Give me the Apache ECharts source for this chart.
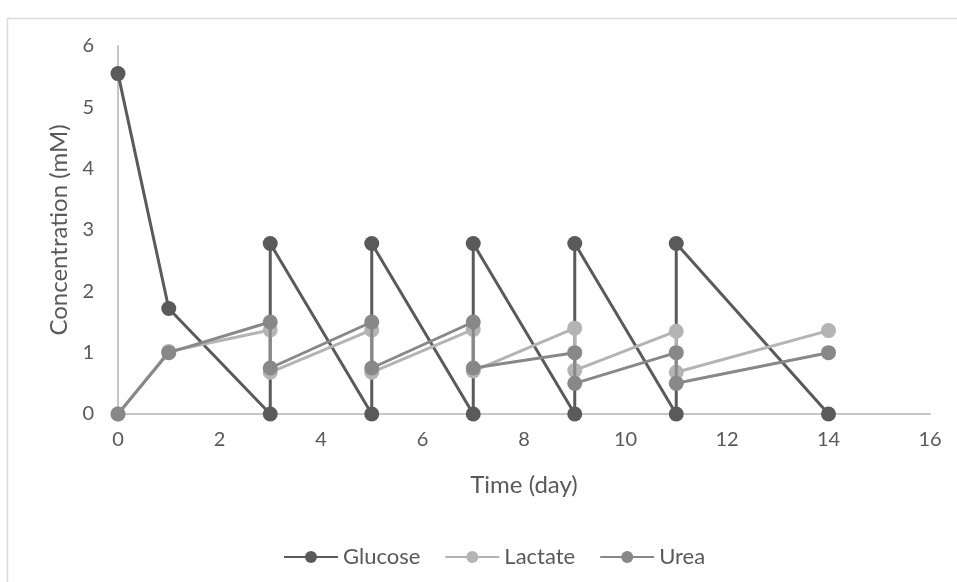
<!DOCTYPE html>
<html>
<head>
<meta charset="utf-8">
<script src="https://cdn.jsdelivr.net/npm/echarts@6/dist/echarts.min.js"></script>
<style>
  html, body { margin: 0; padding: 0; background: #fff; }
  #chart { width: 957px; height: 582px; }
</style>
</head>
<body>
<div id="chart"></div>
<script>
// Sampling days and measured concentrations (mM); media exchanged every two days
const glucoseDays = [0, 1, 3, 3, 5, 5, 7, 7, 9, 9, 11, 11, 14];
const glucoseValues = [5.55, 1.72, 0, 2.78, 0, 2.78, 0, 2.78, 0, 2.78, 0, 2.78, 0];

const lactateDays = [0, 1, 3, 3, 5, 5, 7, 7, 9, 9, 11, 11, 14];
const lactateValues = [0, 1.02, 1.37, 0.68, 1.37, 0.68, 1.38, 0.7, 1.4, 0.71, 1.35, 0.68, 1.36];

const ureaDays = [0, 1, 3, 3, 5, 5, 7, 7, 9, 9, 11, 11, 14];
const ureaValues = [0, 1.0, 1.5, 0.75, 1.5, 0.75, 1.5, 0.75, 1.0, 0.5, 1.0, 0.5, 1.0];

const seriesNames = ['Glucose', 'Lactate', 'Urea'];
const seriesColors = ['#5a5a5a', '#b4b4b4', '#888888'];

const pairs = (xs, ys) => xs.map((x, i) => [x, ys[i]]);
const seriesData = [
  pairs(glucoseDays, glucoseValues),
  pairs(lactateDays, lactateValues),
  pairs(ureaDays, ureaValues)
];

const textColor = '#595959';
const fontFamily = 'Lato, "Open Sans", sans-serif';

const chart = echarts.init(document.getElementById('chart'), null, { renderer: 'canvas' });

chart.setOption({
  animation: false,
  backgroundColor: '#ffffff',
  textStyle: { fontFamily: fontFamily, color: textColor },
  graphic: [{
    type: 'rect',
    left: 5, top: 16,
    shape: { width: 1000, height: 1000 },
    style: { fill: 'none', stroke: '#d9d9d9', lineWidth: 1.5 },
    silent: true,
    z: -10
  }],
  grid: { left: 118, right: 27, top: 46, bottom: 168 },
  xAxis: {
    type: 'value',
    min: 0, max: 16, interval: 2,
    name: 'Time (day)',
    nameLocation: 'middle',
    nameGap: 59,
    nameTextStyle: { fontSize: 24, color: textColor, fontFamily: fontFamily },
    axisLine: { show: true, lineStyle: { color: '#c6c6c6', width: 2 } },
    axisTick: { show: false },
    splitLine: { show: false },
    axisLabel: { fontSize: 20, color: textColor, margin: 16, fontFamily: fontFamily }
  },
  yAxis: {
    type: 'value',
    min: 0, max: 6, interval: 1,
    name: 'Concentration (mM)',
    nameLocation: 'middle',
    nameGap: 44,
    nameTextStyle: { fontSize: 24, color: textColor, fontFamily: fontFamily },
    axisLine: { show: true, lineStyle: { color: '#c6c6c6', width: 2 } },
    axisTick: { show: false },
    splitLine: { show: false },
    axisLabel: { fontSize: 20, color: textColor, margin: 24, fontFamily: fontFamily }
  },
  legend: {
    left: 278,
    top: 541,
    itemWidth: 54,
    itemHeight: 15,
    itemGap: 24,
    textStyle: { fontSize: 22, color: textColor, fontFamily: fontFamily },
    data: seriesNames
  },
  series: seriesNames.map((name, i) => ({
    name: name,
    type: 'line',
    data: seriesData[i],
    color: seriesColors[i],
    symbol: 'circle',
    symbolSize: 15,
    showAllSymbol: true,
    lineStyle: { width: 3, color: seriesColors[i] },
    itemStyle: { color: seriesColors[i] },
    z: 2 + i
  }))
});
</script>
</body>
</html>
